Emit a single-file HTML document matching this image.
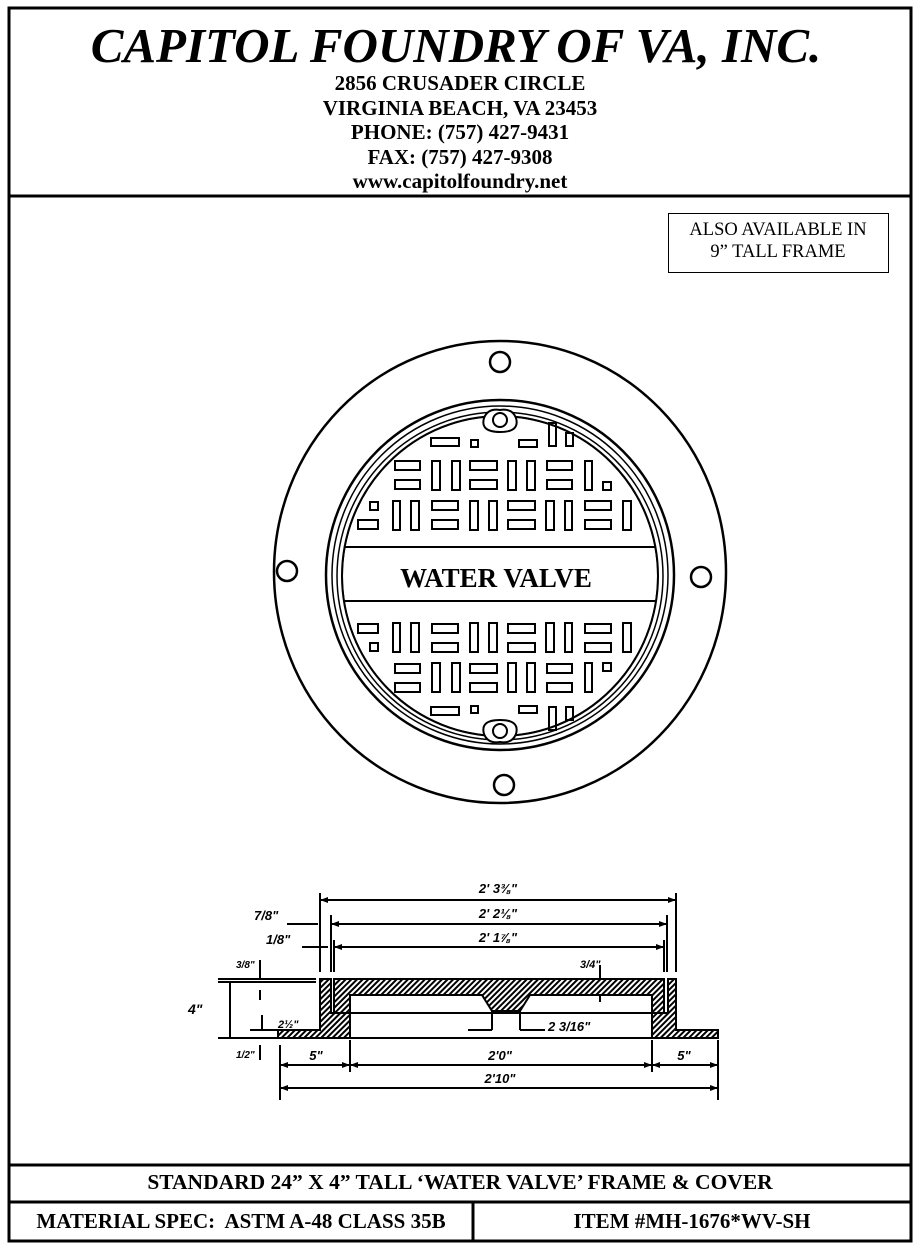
<!DOCTYPE html>
<html><head><meta charset="utf-8"><style>
body{margin:0;width:920px;height:1248px;background:#fff;overflow:hidden;font-family:"Liberation Serif",serif}
.t{position:absolute;left:0;width:920px;text-align:center;font-weight:bold;color:#000}
</style></head><body>
<svg width="920" height="1248" style="position:absolute;left:0;top:0" xmlns="http://www.w3.org/2000/svg">
<defs>
<pattern id="h" width="4" height="4" patternUnits="userSpaceOnUse" patternTransform="rotate(45)"><rect width="4" height="4" fill="#fff"/><rect width="2" height="4" fill="#000"/></pattern>
<clipPath id="cv"><ellipse cx="500" cy="576" rx="158" ry="160"/></clipPath>
</defs>
<g fill="none" stroke="#000">
<rect x="9" y="8" width="902" height="1233" stroke-width="3"/>
<line x1="9" y1="196" x2="911" y2="196" stroke-width="3"/>
<line x1="9" y1="1165" x2="911" y2="1165" stroke-width="3"/>
<line x1="9" y1="1202" x2="911" y2="1202" stroke-width="3"/>
<line x1="473" y1="1202" x2="473" y2="1241" stroke-width="3"/>
<rect x="668.5" y="213.5" width="220" height="59" stroke-width="1"/>
<g stroke-width="2.5">
<ellipse cx="500" cy="572" rx="226" ry="231"/>
<ellipse cx="500" cy="575" rx="174" ry="175"/>
<ellipse cx="500" cy="575" rx="168" ry="169" stroke-width="1.5"/>
<ellipse cx="500" cy="576" rx="163" ry="164" stroke-width="1.5"/>
<circle cx="500" cy="362" r="10"/><circle cx="287" cy="571" r="10"/><circle cx="701" cy="577" r="10"/><circle cx="504" cy="785" r="10"/>
</g>
<g clip-path="url(#cv)" stroke-width="2">
<ellipse cx="500" cy="576" rx="158" ry="160"/>
<line x1="300" y1="547" x2="700" y2="547"/><line x1="300" y1="601" x2="700" y2="601"/>
</g>
<ellipse cx="500" cy="576" rx="158" ry="160" stroke-width="2"/>
<path d="M484 418 Q488 408 500 410 Q512 408 516 418 Q520 432 500 432 Q480 432 484 418Z" fill="#fff" stroke-width="2"/>
<circle cx="500" cy="420" r="7" stroke-width="2"/>
<path d="M484 734 Q488 744 500 742 Q512 744 516 734 Q520 720 500 720 Q480 720 484 734Z" fill="#fff" stroke-width="2"/>
<circle cx="500" cy="731" r="7" stroke-width="2"/>
<g stroke-width="2" id="sl">
<rect x="431" y="438" width="28" height="8"/><rect x="471" y="440" width="7" height="7"/><rect x="519" y="440" width="18" height="7"/><rect x="549" y="423" width="7" height="23"/><rect x="566" y="433" width="7" height="13"/>
<rect x="395" y="461" width="25" height="9"/><rect x="395" y="480" width="25" height="9"/>
<rect x="432" y="461" width="8" height="29"/><rect x="452" y="461" width="8" height="29"/>
<rect x="470" y="461" width="27" height="9"/><rect x="470" y="480" width="27" height="9"/>
<rect x="508" y="461" width="8" height="29"/><rect x="527" y="461" width="8" height="29"/>
<rect x="547" y="461" width="25" height="9"/><rect x="547" y="480" width="25" height="9"/>
<rect x="585" y="461" width="7" height="29"/><rect x="603" y="482" width="8" height="8"/>
<rect x="370" y="502" width="8" height="8"/><rect x="358" y="520" width="20" height="9"/>
<rect x="393" y="501" width="7" height="29"/><rect x="411" y="501" width="8" height="29"/>
<rect x="432" y="501" width="26" height="9"/><rect x="432" y="520" width="26" height="9"/>
<rect x="470" y="501" width="8" height="29"/><rect x="489" y="501" width="8" height="29"/>
<rect x="508" y="501" width="27" height="9"/><rect x="508" y="520" width="27" height="9"/>
<rect x="546" y="501" width="8" height="29"/><rect x="565" y="501" width="7" height="29"/>
<rect x="585" y="501" width="26" height="9"/><rect x="585" y="520" width="26" height="9"/>
<rect x="623" y="501" width="8" height="29"/>
</g>
<use href="#sl" transform="translate(0,1153) scale(1,-1)"/>
<g stroke-width="2">
<line x1="320" y1="900" x2="676" y2="900"/><line x1="331" y1="924" x2="667" y2="924"/><line x1="334" y1="947" x2="664" y2="947"/>
<line x1="320" y1="893" x2="320" y2="972"/><line x1="676" y1="893" x2="676" y2="972"/>
<line x1="331" y1="915" x2="331" y2="972"/><line x1="667" y1="915" x2="667" y2="972"/>
<line x1="334" y1="940" x2="334" y2="972"/><line x1="664" y1="940" x2="664" y2="972"/>
<line x1="287" y1="924" x2="318" y2="924"/><line x1="302" y1="947" x2="328" y2="947"/>
<line x1="280" y1="1065" x2="718" y2="1065"/><line x1="280" y1="1088" x2="718" y2="1088"/>
<line x1="280" y1="1045" x2="280" y2="1100"/><line x1="718" y1="1040" x2="718" y2="1100"/>
<line x1="350" y1="1040" x2="350" y2="1072"/><line x1="652" y1="1040" x2="652" y2="1072"/>
<line x1="218" y1="982" x2="316" y2="982"/><line x1="218" y1="979" x2="316" y2="979"/>
<line x1="230" y1="982" x2="230" y2="1038"/><line x1="218" y1="1038" x2="280" y2="1038"/>
<line x1="260" y1="960" x2="260" y2="978"/><line x1="260" y1="990" x2="260" y2="1000"/>
<line x1="250" y1="1030" x2="318" y2="1030"/><line x1="262" y1="1015" x2="262" y2="1030"/>
<line x1="260" y1="1045" x2="260" y2="1060"/>
<line x1="600" y1="965" x2="600" y2="978"/><line x1="600" y1="994" x2="600" y2="1002"/>
<line x1="492" y1="999" x2="492" y2="1030"/><line x1="468" y1="1030" x2="492" y2="1030"/>
<line x1="520" y1="999" x2="520" y2="1030"/><line x1="520" y1="1030" x2="545" y2="1030"/>
</g>
<g fill="url(#h)" stroke-width="2">
<path d="M320 979 H331 V1013 H350 V1038 H278 V1030 H320Z"/>
<path d="M676 979 H668 V1013 H652 V1038 H718 V1030 H676Z"/>
<path d="M334 979 H664 V1013 H652 V995 H530 L520 1011 H492 L482 995 H350 V1013 H334Z"/>
</g>
<line x1="350" y1="1013" x2="652" y2="1013" stroke-width="2"/>
<line x1="280" y1="1038" x2="718" y2="1038" stroke-width="2"/>
</g>
<g fill="#000">
<path d="M320 900 l8 -3 v6z M676 900 l-8 -3 v6z M331 924 l8 -3 v6z M667 924 l-8 -3 v6z M334 947 l8 -3 v6z M664 947 l-8 -3 v6z M280 1065 l8 -3 v6z M718 1065 l-8 -3 v6z M280 1088 l8 -3 v6z M718 1088 l-8 -3 v6z M350 1065 l-8 -3 v6z M350 1065 l8 -3 v6z M652 1065 l-8 -3 v6z M652 1065 l8 -3 v6z"/>
</g>
<g font-family="Liberation Sans,sans-serif" font-weight="bold" font-style="italic" font-size="13" fill="#000">
<text x="498" y="893" text-anchor="middle">2' 3⅜"</text>
<text x="498" y="918" text-anchor="middle">2' 2⅛"</text>
<text x="498" y="942" text-anchor="middle">2' 1⅞"</text>
<text x="254" y="920">7/8"</text><text x="266" y="944">1/8"</text>
<text x="236" y="968" font-size="10">3/8"</text>
<text x="188" y="1014" font-size="14">4"</text>
<text x="278" y="1028" font-size="11">2½"</text>
<text x="236" y="1058" font-size="10">1/2"</text>
<text x="580" y="968" font-size="11">3/4"</text>
<text x="548" y="1031">2 3/16"</text>
<text x="316" y="1060" text-anchor="middle">5"</text>
<text x="500" y="1060" text-anchor="middle">2'0"</text>
<text x="684" y="1060" text-anchor="middle">5"</text>
<text x="500" y="1083" text-anchor="middle">2'10"</text>
</g>
<text x="496" y="587" text-anchor="middle" font-family="Liberation Serif,serif" font-weight="bold" font-size="27">WATER VALVE</text>
</svg>
<div class="t" style="top:17px;font-size:49px;font-style:italic;left:-4px">CAPITOL FOUNDRY OF VA, INC.</div>
<div class="t" style="top:71px;font-size:21px;line-height:24.5px;left:0">2856 CRUSADER CIRCLE<br>VIRGINIA BEACH, VA 23453<br>PHONE: (757) 427-9431<br>FAX: (757) 427-9308<br>www.capitolfoundry.net</div>
<div style="position:absolute;left:668px;top:219px;width:220px;text-align:center;font-size:18.5px;line-height:22px">ALSO AVAILABLE IN<br>9” TALL FRAME</div>
<div class="t" style="top:1170px;font-size:21.5px">STANDARD 24” X 4” TALL ‘WATER VALVE’ FRAME &amp; COVER</div>
<div style="position:absolute;left:9px;width:464px;top:1209px;text-align:center;font-size:21px;font-weight:bold">MATERIAL SPEC:&nbsp; ASTM A-48 CLASS 35B</div>
<div style="position:absolute;left:473px;width:438px;top:1209px;text-align:center;font-size:21px;font-weight:bold">ITEM #MH-1676*WV-SH</div>
</body></html>
